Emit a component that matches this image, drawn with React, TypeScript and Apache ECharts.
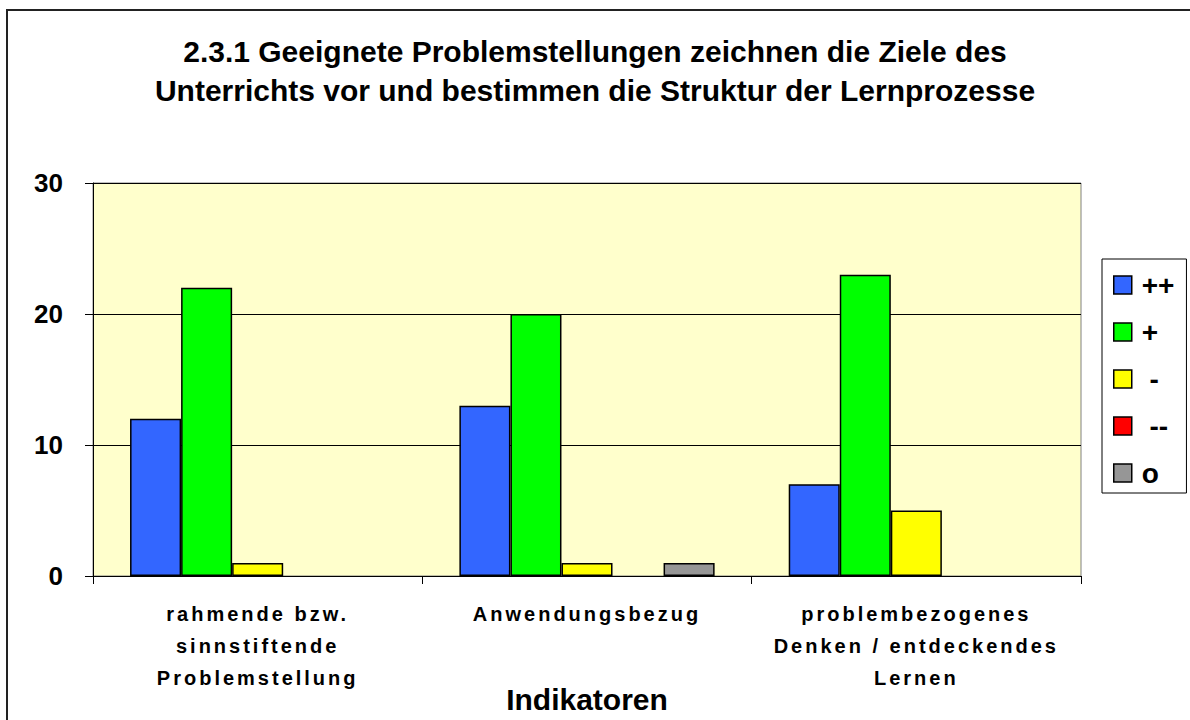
import React, { useEffect, useRef } from "react";
import * as echarts from "echarts";

const titleLines = [
  "2.3.1 Geeignete Problemstellungen zeichnen die Ziele des",
  "Unterrichts vor und bestimmen die Struktur der Lernprozesse",
];
const categories = [
  "rahmende bzw.\nsinnstiftende\nProblemstellung",
  "Anwendungsbezug",
  "problembezogenes\nDenken / entdeckendes\nLernen",
];
const seriesNames = ["++", "+", "-", "--", "o"];
const seriesColors = ["#3366FF", "#00FF00", "#FFFF00", "#FF0000", "#969696"];
const valuesPlusPlus = [12, 13, 7];
const valuesPlus = [22, 20, 23];
const valuesMinus = [1, 1, 5];
const valuesMinusMinus = [0, 0, 0];
const valuesO = [0, 1, 0];
const seriesValues = [valuesPlusPlus, valuesPlus, valuesMinus, valuesMinusMinus, valuesO];
const yTicks = { min: 0, max: 30, interval: 10 };
const xAxisName = "Indikatoren";

const FONT = "'Liberation Sans', Arial, sans-serif";

export default function App() {
  const ref = useRef<HTMLDivElement>(null);
  useEffect(() => {
    if (!ref.current) return;
    const el = ref.current;
    const chart = echarts.init(el, null, { renderer: "svg" });
    const catLines = new Set<string>();
    categories.forEach((c) => c.split("\n").forEach((l) => catLines.add(l)));
    const spaceLabels = () => {
      el.querySelectorAll("text").forEach((t) => {
        const s = (t.textContent || "").trim();
        if (catLines.has(s)) t.setAttribute("letter-spacing", "3");
      });
    };
    chart.on("finished", spaceLabels);
    chart.setOption({
      animation: false,
      backgroundColor: "#FFFFFF",
      textStyle: { fontFamily: FONT },
      title: {
        text: titleLines.join("\n"),
        left: "center",
        top: 32,
        padding: 0,
        textStyle: {
          fontFamily: FONT,
          fontSize: 30,
          fontWeight: "bold",
          color: "#000",
          lineHeight: 39,
        },
      },
      graphic: [
        {
          type: "rect",
          shape: { x: 7, y: 10, width: 1200, height: 730 },
          style: { fill: "none", stroke: "#222", lineWidth: 2 },
          silent: true,
          z: 100,
        },
      ],
      legend: {
        orient: "vertical",
        left: 1102,
        top: 259,
        data: seriesNames,
        itemWidth: 18,
        itemHeight: 18,
        itemGap: 19,
        backgroundColor: "#FFFFFF",
        borderColor: "#000",
        borderWidth: 1,
        padding: [12, 12, 6, 11],
        icon: "rect",
        itemStyle: { borderColor: "#000", borderWidth: 1.5 },
        formatter: (name: string) => (name.startsWith("-") ? " " + name : name),
        textStyle: {
          fontFamily: FONT,
          fontSize: 28,
          fontWeight: "bold",
          color: "#000",
          lineHeight: 28,
          padding: [0, 0, 0, 5],
        },
      },
      grid: {
        left: 93,
        top: 183,
        right: 109,
        bottom: 144,
        show: true,
        backgroundColor: "#FFFFCC",
        borderColor: "#808080",
        borderWidth: 1,
        containLabel: false,
        outerBoundsMode: "none",
      },
      xAxis: {
        type: "category",
        data: categories,
        name: xAxisName,
        nameLocation: "middle",
        nameGap: 108,
        nameMoveOverlap: false,
        nameTextStyle: {
          fontFamily: FONT,
          fontSize: 30,
          fontWeight: "bold",
          color: "#000",
        },
        axisLine: { show: true, lineStyle: { color: "#000", width: 1 } },
        axisTick: { show: true, length: 8, lineStyle: { color: "#000" } },
        axisLabel: {
          interval: 0,
          margin: 22,
          fontFamily: FONT,
          fontSize: 20,
          fontWeight: "bold",
          color: "#000",
          lineHeight: 32,
        },
        splitLine: { show: false },
      },
      yAxis: {
        type: "value",
        min: yTicks.min,
        max: yTicks.max,
        interval: yTicks.interval,
        axisLine: { show: true, lineStyle: { color: "#000", width: 1 } },
        axisTick: { show: true, length: 8, lineStyle: { color: "#000" } },
        axisLabel: {
          margin: 30,
          fontFamily: FONT,
          fontSize: 26,
          fontWeight: "bold",
          color: "#000",
        },
        splitLine: { show: true, lineStyle: { color: "#000", width: 1 } },
      },
      series: seriesNames.map((name, i) => ({
        name,
        type: "bar",
        data: seriesValues[i].map((v) => (v === 0 ? null : v)),
        barGap: "0%",
        barCategoryGap: "22.5%",
        itemStyle: {
          color: seriesColors[i],
          borderColor: "#000",
          borderWidth: 1.5,
        },
      })),
    });
    spaceLabels();
    const raf = requestAnimationFrame(spaceLabels);
    return () => {
      cancelAnimationFrame(raf);
      chart.dispose();
    };
  }, []);
  return (
    <div
      ref={ref}
      style={{ position: "absolute", left: 0, top: 0, width: 1190, height: 720 }}
    />
  );
}
